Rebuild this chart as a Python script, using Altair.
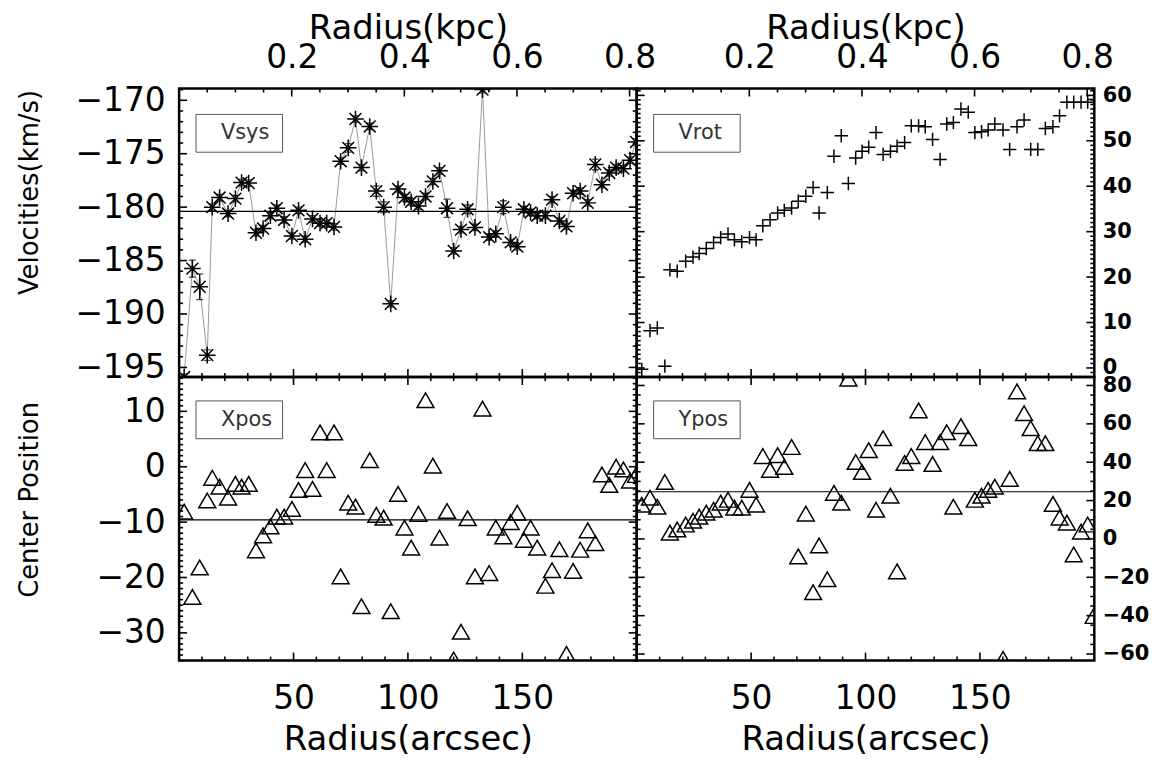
import altair as alt
import pandas as pd

# ---------------- data ----------------
radius = [2.2, 5.8, 9.0, 12.3, 14.5, 17.7, 21.4, 24.6, 27.3, 30.4, 33.6, 36.7, 39.9, 42.7, 45.9,
          49.3, 52.2, 55.1, 58.3, 61.6, 64.5, 67.7, 70.6, 73.9, 77.1, 79.7, 83.3, 86.2, 89.4, 92.5,
          95.7, 98.5, 101.4, 104.6, 107.7, 110.9, 113.8, 117.1, 120.0, 123.2, 126.1, 129.3, 132.6,
          135.5, 138.4, 141.7, 144.9, 147.8, 150.7, 153.6, 156.5, 160.1, 163.0, 166.2, 169.3, 172.2,
          175.3, 178.6, 181.9, 184.8, 188.0, 191.0, 194.2, 197.1, 199.7]

vsys = [-195.9, -185.75, -187.45, -193.85, -180.0, -179.1, -180.6, -179.2, -177.7, -177.75,
        -182.4, -182.0, -180.8, -180.1, -181.2, -182.7, -180.3, -183.0, -181.1, -181.5,
        -181.5, -181.85, -175.7, -174.45, -171.75, -176.3, -172.45, -178.5, -180.0, -189.05,
        -178.3, -179.1, -179.5, -179.9, -179.0, -177.6, -176.6, -180.1, -184.1, -182.1,
        -180.2, -181.9, -169.0, -182.8, -182.5, -180.0, -183.3, -183.7, -180.2, -180.5,
        -180.8, -180.8, -179.3, -181.3, -181.8, -178.7, -178.5, -179.6, -176.0, -177.9,
        -176.8, -176.3, -176.4, -175.6, -173.9]

vsys_err = [0.3, 0.8, 1.2, 0.5, 0.3, 0.3, 0.3, 0.3, 0.3, 0.3,
            0.3, 0.3, 0.3, 0.3, 0.3, 0.3, 0.3, 0.3, 0.3, 0.3,
            0.3, 0.3, 0.3, 0.4, 0.3, 0.3, 0.3, 0.5, 0.5, 0.3,
            0.3, 0.3, 0.3, 0.3, 0.3, 0.3, 0.3, 0.85, 0.3, 0.3,
            0.4, 0.3, 0.3, 0.3, 0.3, 0.6, 0.3, 0.3, 0.3, 0.3,
            0.3, 0.3, 0.3, 0.3, 0.3, 0.3, 0.3, 0.3, 0.5, 0.3,
            0.3, 0.3, 0.3, 0.3, 0.3]

vrot = [-0.3, 8.2, 8.8, 0.4, 21.6, 21.3, 23.5, 24.4, 25.2, 26.3, 27.6, 28.7, 29.5, 28.2, 27.8,
        28.7, 28.2, 31.3, 32.6, 34.1, 34.7, 35.2, 36.7, 37.8, 39.7, 34.1, 38.6, 46.6, 51.1, 40.6,
        46.2, 47.7, 48.6, 51.8, 47.0, 47.7, 48.8, 49.6, 53.3, 53.3, 53.1, 50.3, 45.9, 53.7, 54.0,
        57.0, 56.3, 51.8, 52.0, 52.4, 53.7, 52.4, 48.1, 53.1, 54.6, 48.1, 48.1, 52.7, 53.1, 55.5,
        58.5, 58.5, 58.5, 58.5, 59.1]

xpos = [-8.1, -23.5, -18.2, -6.1, -2.0, -3.6, -5.6, -3.1, -3.6, -3.1, -15.1, -12.4, -10.8, -9.0,
        -9.0, -7.6, -4.2, -0.6, -4.0, 6.2, -0.6, 6.2, -19.8, -6.5, -7.2, -25.2, 1.2, -8.7, -9.2,
        -26.1, -4.9, -11.0, -14.6, -8.5, 12.0, 0.2, -12.8, -8.0, -34.8, -29.8, -9.3, -19.8, 10.5,
        -19.2, -11.0, -12.6, -10.0, -8.3, -13.2, -11.0, -14.6, -21.5, -18.7, -14.9, -33.8, -18.8,
        -15.0, -11.5, -13.8, -1.4, -3.3, 0.0, -0.5, -2.5, -1.5]

ypos = [17.8, 21.5, 16.8, 29.7, 3.3, 4.9, 7.5, 9.5, 11.6, 13.7, 15.2, 18.9, 20.4, 16.3, 16.3,
        25.6, 17.8, 43.2, 36.0, 43.7, 37.5, 47.9, -9.1, 13.2, -27.8, -3.4, -21.0, 24.0, 18.9, 83.6,
        40.1, 34.9, 46.3, 15.2, 52.5, 22.5, -16.9, 39.6, 43.2, 67.0, 50.5, 39.1, 50.5, 55.6, 16.8,
        58.8, 52.5, 20.4, 22.5, 25.6, 27.2, -62.5, 31.3, 76.9, 65.5, 57.7, 49.9, 49.9, 18.3, 11.1,
        8.5, -8.1, 3.8, 7.5, -40.2]

vsys_mean = [-180.4]
xpos_mean = [-9.6]
ypos_mean = [24.6]

arcsec_major = [50, 100, 150]
arcsec_minor = [10, 20, 30, 40, 60, 70, 80, 90, 110, 120, 130, 140, 160, 170, 180, 190]
kpc_major = [0.2, 0.4, 0.6, 0.8]
kpc_minor = [0.05, 0.1, 0.15, 0.25, 0.3, 0.35, 0.45, 0.5, 0.55, 0.65, 0.7, 0.75]

vsys_major = [-195, -190, -185, -180, -175, -170]
vsys_minor = [v for v in range(-195, -168) if v % 5 != 0]
vrot_major = [0, 10, 20, 30, 40, 50, 60]
vrot_minor = [v for v in range(-1, 62) if v % 10 != 0]
xpos_major = [-30, -20, -10, 0, 10]
xpos_minor = [v for v in range(-35, 17) if v % 10 != 0]
ypos_major = [-60, -40, -20, 0, 20, 40, 60, 80]
ypos_minor = [v for v in range(-60, 85, 5) if v % 20 != 0]

ARCSEC_DOMAIN = [0, 200]
KPC_DOMAIN = [0, 200 / 246.1]

W = 460
H_TOP = 290
H_BOT = 285

FONT = "DejaVu Sans"
LBL = 33
TTL = 34

ASTER = "M-1,0L1,0M0,-1L0,1M-0.71,-0.71L0.71,0.71M-0.71,0.71L0.71,-0.71"
PLUS = "M-1,0L1,0M0,-1L0,1"

df = pd.DataFrame({"r": radius, "vsys": vsys, "err": vsys_err, "vrot": vrot,
                   "xpos": xpos, "ypos": ypos})


def xs():
    return alt.Scale(domain=ARCSEC_DOMAIN, nice=False, zero=False)


def ys(dom):
    return alt.Scale(domain=dom, nice=False, zero=False)


def xtick_layer(values, H, length, side):
    d = pd.DataFrame({"t": values})
    if side == "bottom":
        y, y2 = alt.value(H), alt.value(H - length)
    else:
        y, y2 = alt.value(0), alt.value(length)
    return alt.Chart(d).mark_rule(color="black", strokeWidth=1.6).encode(
        x=alt.X("t:Q", scale=xs(), axis=None), y=y, y2=y2)


def ytick_layer(values, dom, length, side):
    d = pd.DataFrame({"t": values})
    if side == "left":
        x, x2 = alt.value(0), alt.value(length)
    else:
        x, x2 = alt.value(W), alt.value(W - length)
    return alt.Chart(d).mark_rule(color="black", strokeWidth=1.6).encode(
        y=alt.Y("t:Q", scale=ys(dom), axis=None), x=x, x2=x2)


def legend_box(label, top):
    d = pd.DataFrame({"label": [label]})
    box = alt.Chart(d).mark_rect(fill=None, stroke="#555555", strokeWidth=1).encode(
        x=alt.value(17), x2=alt.value(104), y=alt.value(top), y2=alt.value(top + 38))
    txt = alt.Chart(d).mark_text(align="left", baseline="middle", font=FONT, fontSize=21,
                                 color="#333333").encode(
        x=alt.value(42), y=alt.value(top + 19), text="label:N")
    return [box, txt]


def panel(ycol, dom, ymajor, yminor, H, top_row, left_col, label, shape, size,
          mean=None, line=False, errors=False, ytitle=None, ytitle_y=0):
    layers = []
    if left_col:
        yaxis = alt.Axis(orient="left", values=ymajor, ticks=False, domain=False, grid=False,
                         labelFont=FONT, labelFontSize=LBL, labelColor="black", labelPadding=14,
                         format="d", title=ytitle, titleFont=FONT, titleFontSize=26,
                         titleFontWeight="normal", titleColor="black", titleAngle=-90,
                         titleX=-137, titleY=ytitle_y, titleAlign="center")
    else:
        yaxis = alt.Axis(orient="right", values=ymajor, ticks=False, domain=False, grid=False,
                         labelFont=FONT, labelFontSize=21, labelFontWeight="bold",
                         labelColor="black", labelPadding=8, format="d", title=None)
    if top_row:
        xaxis = None
    else:
        xaxis = alt.Axis(orient="bottom", values=arcsec_major, ticks=False, domain=False,
                         grid=False, labelFont=FONT, labelFontSize=LBL, labelColor="black",
                         labelPadding=22, format="d", title="Radius(arcsec)", titleFont=FONT,
                         titleFontSize=TTL, titleFontWeight="normal", titleColor="black",
                         titleY=89, titleBaseline="alphabetic")
    base = alt.Chart(df)
    if line:
        layers.append(base.mark_line(color="#999999", strokeWidth=1, clip=True).encode(
            x=alt.X("r:Q", scale=xs(), axis=None), y=alt.Y(f"{ycol}:Q", scale=ys(dom), axis=None)))
    if errors:
        eb = base.transform_calculate(lo=f"datum.{ycol} - datum.err",
                                      hi=f"datum.{ycol} + datum.err")
        layers.append(eb.mark_rule(color="black", strokeWidth=1.3, clip=True).encode(
            x=alt.X("r:Q", scale=xs(), axis=None),
            y=alt.Y("lo:Q", scale=ys(dom), axis=None), y2="hi:Q"))
        for c in ("lo", "hi"):
            layers.append(eb.mark_tick(color="black", orient="horizontal", size=7, thickness=1.3,
                                       clip=True).encode(
                x=alt.X("r:Q", scale=xs(), axis=None),
                y=alt.Y(f"{c}:Q", scale=ys(dom), axis=None)))
    if mean is not None:
        md = pd.DataFrame({"m": mean})
        layers.append(alt.Chart(md).mark_rule(color="black", strokeWidth=1.2).encode(
            y=alt.Y("m:Q", scale=ys(dom), axis=None), x=alt.value(0), x2=alt.value(W)))
    layers.append(base.mark_point(shape=shape, size=size, filled=False, color="black",
                                  strokeWidth=1.5, opacity=1, clip=True).encode(
        x=alt.X("r:Q", scale=xs(), axis=xaxis),
        y=alt.Y(f"{ycol}:Q", scale=ys(dom), axis=yaxis)))
    # inward ticks
    layers.append(xtick_layer(arcsec_major, H, 8, "bottom"))
    layers.append(xtick_layer(arcsec_minor, H, 4, "bottom"))
    if not top_row:
        layers.append(xtick_layer(arcsec_major, H, 8, "top"))
        layers.append(xtick_layer(arcsec_minor, H, 4, "top"))
    layers.append(ytick_layer(ymajor, dom, 8, "left"))
    layers.append(ytick_layer(yminor, dom, 4, "left"))
    layers.append(ytick_layer(ymajor, dom, 8, "right"))
    layers.append(ytick_layer(yminor, dom, 4, "right"))
    layers += legend_box(label, 26 if top_row else 24)
    inner = alt.layer(*layers).resolve_axis(x="independent", y="independent")
    if top_row:
        kd = pd.DataFrame({"k": kpc_major})
        kmd = pd.DataFrame({"k": kpc_minor})
        kaxis = alt.Axis(orient="top", values=kpc_major, ticks=False, domain=False, grid=False,
                         labelFont=FONT, labelFontSize=LBL, labelColor="black", labelPadding=14,
                         format=".1f", title="Radius(kpc)", titleFont=FONT, titleFontSize=TTL,
                         titleFontWeight="normal", titleColor="black",
                         titleY=-50, titleBaseline="alphabetic")
        kmaj = alt.Chart(kd).mark_rule(color="black", strokeWidth=1.6).encode(
            x=alt.X("k:Q", scale=alt.Scale(domain=KPC_DOMAIN, nice=False, zero=False), axis=kaxis),
            y=alt.value(0), y2=alt.value(8))
        kmin = alt.Chart(kmd).mark_rule(color="black", strokeWidth=1.6).encode(
            x=alt.X("k:Q", scale=alt.Scale(domain=KPC_DOMAIN, nice=False, zero=False), axis=None),
            y=alt.value(0), y2=alt.value(4))
        kl = alt.layer(kmaj, kmin).resolve_axis(x="independent")
        out = alt.layer(inner, kl).resolve_scale(x="independent").resolve_axis(
            x="independent", y="independent")
    else:
        out = inner
    return out.properties(width=W, height=H)


tl = panel("vsys", [-195.9, -168.9], vsys_major, vsys_minor, H_TOP, True, True, "Vsys",
           ASTER, 280, mean=vsys_mean, line=True, errors=True,
           ytitle="Velocities(km/s)", ytitle_y=104)
tr = panel("vrot", [-2.0, 61.5], vrot_major, vrot_minor, H_TOP, True, False, "Vrot",
           PLUS, 180)
bl = panel("xpos", [-35.0, 16.2], xpos_major, xpos_minor, H_BOT, False, True, "Xpos",
           "triangle-up", 289, mean=xpos_mean, ytitle="Center Position", ytitle_y=123)
br = panel("ypos", [-63.4, 84.4], ypos_major, ypos_minor, H_BOT, False, False, "Ypos",
           "triangle-up", 289, mean=ypos_mean)

chart = alt.concat(tl, tr, bl, br, columns=2, spacing=0, bounds="flush").resolve_scale(
    x="independent", y="independent").configure_view(
    stroke="black", strokeWidth=2.5).properties(
    padding={"left": 7, "top": 0, "right": 5, "bottom": 0}, background="white")

chart.save("out.html", embed_options={"renderer": "svg", "actions": False})
